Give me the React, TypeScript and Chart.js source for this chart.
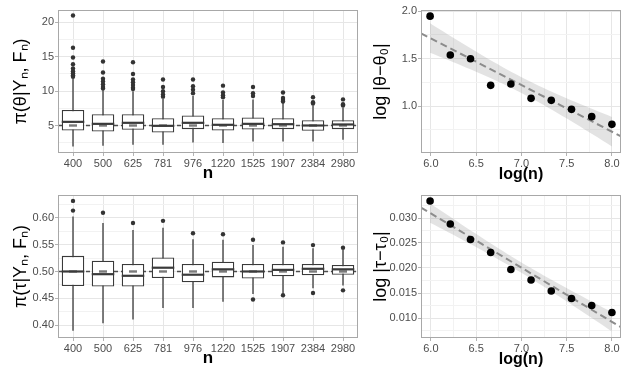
import React, { useEffect, useRef } from 'react';
import { Chart, registerables } from 'chart.js';

Chart.register(...registerables);

const FONT = "'Liberation Sans', Arial, Helvetica, sans-serif";
const GRID_MAJOR = '#e6e6e6';
const GRID_MINOR = '#f2f2f2';
const TICK = '#b3b3b3';
const BORDER = '#a8a8a8';
const TICK_TEXT = '#4d4d4d';
const BOX_LINE = '#3a3a3a';

// ---------- data ----------
const nLabels = ['400', '500', '625', '781', '976', '1220', '1525', '1907', '2384', '2980'];
const nValues = [400, 500, 625, 781, 976, 1220, 1525, 1907, 2384, 2980];

// theta posterior boxplots
const thetaTrue = 5;
const thetaLow = [1.95, 2.05, 2.2, 2.2, 2.53, 2.44, 2.68, 2.68, 2.68, 2.92];
const thetaQ1 = [4.27, 4.13, 4.37, 3.98, 4.47, 4.27, 4.42, 4.47, 4.23, 4.47];
const thetaMed = [5.53, 5.24, 5.39, 4.95, 5.39, 5.1, 5.24, 5.19, 5.0, 5.15];
const thetaQ3 = [7.27, 6.64, 6.64, 6.06, 6.45, 6.06, 6.16, 6.06, 5.77, 5.77];
const thetaHigh = [11.8, 10.2, 10.0, 8.9, 9.3, 8.7, 8.8, 8.3, 7.9, 7.6];
const thetaOutliers = [
  [21.0, 16.3, 14.9, 13.9, 13.3, 12.9, 12.6, 12.3, 12.1],
  [14.3, 12.7, 11.8, 11.4, 11.0, 10.6, 10.4],
  [14.2, 12.5, 11.7, 11.3, 10.9, 10.5, 10.3],
  [11.7, 10.6, 10.0, 9.5, 9.2],
  [11.7, 10.7, 10.2, 9.7],
  [10.8, 9.8, 9.4, 9.1],
  [10.6, 9.7, 9.3],
  [9.8, 9.0, 8.7, 8.5],
  [9.1, 8.4, 8.2],
  [8.8, 8.1, 7.9],
];

// tau posterior boxplots
const tauTrue = 0.5;
const tauLow = [0.39, 0.404, 0.411, 0.432, 0.432, 0.444, 0.458, 0.459, 0.469, 0.474];
const tauQ1 = [0.473, 0.472, 0.472, 0.488, 0.48, 0.489, 0.487, 0.491, 0.493, 0.494];
const tauMed = [0.5, 0.495, 0.492, 0.507, 0.494, 0.504, 0.5, 0.503, 0.505, 0.504];
const tauQ3 = [0.529, 0.52, 0.514, 0.526, 0.514, 0.518, 0.514, 0.514, 0.514, 0.512];
const tauHigh = [0.602, 0.59, 0.577, 0.581, 0.56, 0.559, 0.549, 0.546, 0.543, 0.54];
const tauOutliers = [
  [0.631, 0.613],
  [0.609],
  [0.59],
  [0.594],
  [0.571],
  [0.569],
  [0.559, 0.448],
  [0.554, 0.456],
  [0.549, 0.46],
  [0.544, 0.465],
];

// log errors
const logErrTheta = [1.947, 1.537, 1.498, 1.218, 1.232, 1.081, 1.06, 0.965, 0.888, 0.807];
const logErrTau = [0.0334, 0.0288, 0.0257, 0.0231, 0.0197, 0.0176, 0.0154, 0.0139, 0.0125, 0.0111];

const logN = nValues.map((v) => Math.log(v));

// ---------- helpers ----------
const isMajor = (v: number, major: number) => Math.abs(v / major - Math.round(v / major)) < 1e-6;

function borderPlugin() {
  return {
    id: 'panelBorder',
    afterDatasetsDraw(chart: any) {
      const { ctx, chartArea } = chart;
      ctx.save();
      ctx.strokeStyle = BORDER;
      ctx.lineWidth = 1;
      ctx.strokeRect(chartArea.left + 0.5, chartArea.top + 0.5, chartArea.width - 1, chartArea.height - 1);
      ctx.restore();
    },
  };
}

function yAxis(min: number, max: number, step: number, major: number, decimals: number, title: string, titlePad: number, width: number) {
  return {
    type: 'linear',
    min,
    max,
    border: { display: false },
    grid: {
      color: (c: any) => (c.tick && isMajor(c.tick.value, major) ? GRID_MAJOR : GRID_MINOR),
      tickColor: (c: any) => (c.tick && isMajor(c.tick.value, major) ? TICK : 'rgba(0,0,0,0)'),
      tickLength: 3,
      lineWidth: 1,
    },
    ticks: {
      stepSize: step,
      includeBounds: false,
      autoSkip: false,
      padding: 1,
      color: TICK_TEXT,
      font: { size: 11, family: FONT },
      callback: (v: number) => (isMajor(v, major) ? (decimals === 0 ? String(Math.round(v)) : v.toFixed(decimals)) : ''),
    },
    title: {
      display: true,
      text: title,
      color: '#000',
      font: { size: 18, family: FONT },
      padding: { top: titlePad, bottom: 0 },
    },
    afterFit: (s: any) => {
      s.width = width;
    },
  };
}

type BoxParams = {
  low: number[];
  q1: number[];
  med: number[];
  q3: number[];
  high: number[];
  outliers: number[][];
  truth: number;
  yMin: number;
  yMax: number;
  yStep: number;
  yMajor: number;
  decimals: number;
  yTitle: string;
};

function boxConfig(p: BoxParams) {
  const outlierData = p.outliers.flatMap((arr, i) => arr.map((v) => ({ x: nLabels[i], y: v })));
  const extras = {
    id: 'boxExtras',
    beforeDatasetsDraw(chart: any) {
      const { ctx, chartArea } = chart;
      const xs = chart.scales.x;
      const ys = chart.scales.y;
      ctx.save();
      ctx.beginPath();
      ctx.rect(chartArea.left, chartArea.top, chartArea.width, chartArea.height);
      ctx.clip();
      ctx.strokeStyle = BOX_LINE;
      ctx.lineWidth = 1.3;
      p.low.forEach((lo, i) => {
        const px = xs.getPixelForValue(i);
        ctx.beginPath();
        ctx.moveTo(px, ys.getPixelForValue(lo));
        ctx.lineTo(px, ys.getPixelForValue(p.high[i]));
        ctx.stroke();
      });
      const ty = ys.getPixelForValue(p.truth);
      ctx.setLineDash([4, 3]);
      ctx.strokeStyle = '#4d4d4d';
      ctx.lineWidth = 1.4;
      ctx.beginPath();
      ctx.moveTo(chartArea.left, ty);
      ctx.lineTo(chartArea.right, ty);
      ctx.stroke();
      ctx.restore();
    },
    afterDatasetsDraw(chart: any) {
      const { ctx } = chart;
      const ys = chart.scales.y;
      const meta = chart.getDatasetMeta(0);
      ctx.save();
      const ty = ys.getPixelForValue(p.truth);
      meta.data.forEach((el: any, i: number) => {
        // truth marker
        ctx.strokeStyle = '#7a7a7a';
        ctx.lineWidth = 2.4;
        ctx.beginPath();
        ctx.moveTo(el.x - 4, ty);
        ctx.lineTo(el.x + 4, ty);
        ctx.stroke();
        // median
        const my = ys.getPixelForValue(p.med[i]);
        const half = el.width / 2;
        ctx.strokeStyle = BOX_LINE;
        ctx.lineWidth = 2.2;
        ctx.beginPath();
        ctx.moveTo(el.x - half, my);
        ctx.lineTo(el.x + half, my);
        ctx.stroke();
      });
      ctx.restore();
    },
  };
  return {
    type: 'bar',
    data: {
      labels: nLabels,
      datasets: [
        {
          type: 'bar',
          data: p.q1.map((v, i) => [v, p.q3[i]]),
          backgroundColor: '#ffffff',
          borderColor: BOX_LINE,
          borderWidth: 1.3,
          borderSkipped: false,
          barPercentage: 0.75,
          categoryPercentage: 1,
          order: 2,
        },
        {
          type: 'line',
          data: outlierData,
          showLine: false,
          pointRadius: 2.2,
          pointBackgroundColor: '#333333',
          pointBorderWidth: 0,
          order: 1,
        },
      ],
    },
    options: {
      responsive: false,
      animation: false,
      devicePixelRatio: 1,
      layout: { padding: { top: 10, right: 12, left: 0, bottom: 0 } },
      plugins: { legend: { display: false }, tooltip: { enabled: false } },
      scales: {
        x: {
          type: 'category',
          offset: true,
          border: { display: false },
          grid: { offset: false, color: GRID_MAJOR, tickColor: TICK, tickLength: 3, lineWidth: 1 },
          ticks: { autoSkip: false, maxRotation: 0, padding: 1, color: TICK_TEXT, font: { size: 11, family: FONT } },
          title: { display: true, text: 'n', color: '#000', font: { size: 17, weight: 'bold', family: FONT }, padding: { top: 0, bottom: 1 } },
          afterFit: (s: any) => {
            s.height = 32;
          },
        },
        y: yAxis(p.yMin, p.yMax, p.yStep, p.yMajor, p.decimals, p.yTitle, 10, 58),
      },
    },
    plugins: [extras, borderPlugin()],
  };
}

type RegParams = {
  ys: number[];
  yMin: number;
  yMax: number;
  yStep: number;
  yMajor: number;
  decimals: number;
  yTitle: string;
};

const X_MIN = 5.891;
const X_MAX = 8.1;
const T_975_DF8 = 2.306;

function regConfig(p: RegParams) {
  const xs = logN;
  const n = xs.length;
  const mx = xs.reduce((a, b) => a + b, 0) / n;
  const my = p.ys.reduce((a, b) => a + b, 0) / n;
  let sxx = 0;
  let sxy = 0;
  xs.forEach((x, i) => {
    sxx += (x - mx) * (x - mx);
    sxy += (x - mx) * (p.ys[i] - my);
  });
  const b = sxy / sxx;
  const a = my - b * mx;
  let ssr = 0;
  xs.forEach((x, i) => {
    const r = p.ys[i] - (a + b * x);
    ssr += r * r;
  });
  const s = Math.sqrt(ssr / (n - 2));
  const upper: { x: number; y: number }[] = [];
  const lower: { x: number; y: number }[] = [];
  const steps = 40;
  for (let k = 0; k <= steps; k++) {
    const x = xs[0] + ((xs[n - 1] - xs[0]) * k) / steps;
    const se = s * Math.sqrt(1 / n + ((x - mx) * (x - mx)) / sxx);
    const fit = a + b * x;
    upper.push({ x, y: fit + T_975_DF8 * se });
    lower.push({ x, y: fit - T_975_DF8 * se });
  }
  return {
    type: 'line',
    data: {
      datasets: [
        {
          data: upper,
          fill: '+1',
          backgroundColor: 'rgba(153,153,153,0.27)',
          borderColor: 'rgba(0,0,0,0)',
          borderWidth: 0,
          pointRadius: 0,
          order: 4,
        },
        {
          data: lower,
          fill: false,
          borderColor: 'rgba(0,0,0,0)',
          borderWidth: 0,
          pointRadius: 0,
          order: 3,
        },
        {
          data: [
            { x: X_MIN, y: a + b * X_MIN },
            { x: X_MAX, y: a + b * X_MAX },
          ],
          borderColor: '#8c8c8c',
          borderWidth: 2,
          borderDash: [7, 4],
          pointRadius: 0,
          fill: false,
          order: 2,
        },
        {
          data: xs.map((x, i) => ({ x, y: p.ys[i] })),
          showLine: false,
          pointRadius: 3.8,
          pointBackgroundColor: '#000000',
          pointBorderWidth: 0,
          order: 1,
        },
      ],
    },
    options: {
      responsive: false,
      animation: false,
      devicePixelRatio: 1,
      layout: { padding: { top: 10, right: 10, left: 0, bottom: 0 } },
      plugins: { legend: { display: false }, tooltip: { enabled: false } },
      scales: {
        x: {
          type: 'linear',
          min: X_MIN,
          max: X_MAX,
          border: { display: false },
          grid: {
            color: (c: any) => (c.tick && isMajor(c.tick.value, 0.5) ? GRID_MAJOR : GRID_MINOR),
            tickColor: (c: any) => (c.tick && isMajor(c.tick.value, 0.5) ? TICK : 'rgba(0,0,0,0)'),
            tickLength: 3,
            lineWidth: 1,
          },
          ticks: {
            stepSize: 0.25,
            includeBounds: false,
            autoSkip: false,
            maxRotation: 0,
            padding: 1,
            color: TICK_TEXT,
            font: { size: 11, family: FONT },
            callback: (v: number) => (isMajor(v, 0.5) ? v.toFixed(1) : ''),
          },
          title: { display: true, text: 'log(n)', color: '#000', font: { size: 16, weight: 'bold', family: FONT }, padding: { top: 0, bottom: 1 } },
          afterFit: (sc: any) => {
            sc.height = 32;
          },
        },
        y: yAxis(p.yMin, p.yMax, p.yStep, p.yMajor, p.decimals, p.yTitle, 0, 51),
      },
    },
    plugins: [borderPlugin()],
  };
}

function Panel({ left, top, width, height, make }: { left: number; top: number; width: number; height: number; make: () => any }) {
  const ref = useRef<HTMLCanvasElement>(null);
  useEffect(() => {
    const chart = new Chart(ref.current as HTMLCanvasElement, make());
    return () => chart.destroy();
  }, []);
  return (
    <div style={{ position: 'absolute', left, top, width, height }}>
      <canvas ref={ref} width={width} height={height} style={{ width, height, display: 'block' }} />
    </div>
  );
}

export default function App() {
  return (
    <div style={{ position: 'absolute', left: 0, top: 0, width: 631, height: 379, background: '#ffffff', overflow: 'hidden' }}>
      <Panel
        left={0}
        top={0}
        width={370}
        height={185}
        make={() =>
          boxConfig({
            low: thetaLow,
            q1: thetaQ1,
            med: thetaMed,
            q3: thetaQ3,
            high: thetaHigh,
            outliers: thetaOutliers,
            truth: thetaTrue,
            yMin: 1.0,
            yMax: 21.8,
            yStep: 2.5,
            yMajor: 5,
            decimals: 0,
            yTitle: 'π(θ|Yₙ, Fₙ)',
          })
        }
      />
      <Panel
        left={0}
        top={185}
        width={370}
        height={185}
        make={() =>
          boxConfig({
            low: tauLow,
            q1: tauQ1,
            med: tauMed,
            q3: tauQ3,
            high: tauHigh,
            outliers: tauOutliers,
            truth: tauTrue,
            yMin: 0.3765,
            yMax: 0.642,
            yStep: 0.025,
            yMajor: 0.05,
            decimals: 2,
            yTitle: 'π(τ|Yₙ, Fₙ)',
          })
        }
      />
      <Panel
        left={370}
        top={0}
        width={261}
        height={185}
        make={() =>
          regConfig({
            ys: logErrTheta,
            yMin: 0.505,
            yMax: 2.012,
            yStep: 0.25,
            yMajor: 0.5,
            decimals: 1,
            yTitle: 'log |θ−θ₀|',
          })
        }
      />
      <Panel
        left={370}
        top={185}
        width={261}
        height={185}
        make={() =>
          regConfig({
            ys: logErrTau,
            yMin: 0.006,
            yMax: 0.0346,
            yStep: 0.0025,
            yMajor: 0.005,
            decimals: 3,
            yTitle: 'log |τ−τ₀|',
          })
        }
      />
    </div>
  );
}
